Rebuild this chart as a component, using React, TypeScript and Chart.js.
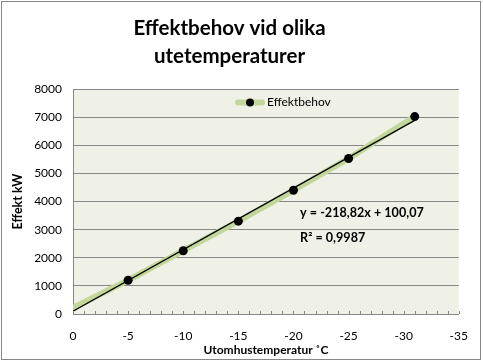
import React, { useEffect, useRef } from 'react';
import { Chart, registerables } from 'chart.js';

Chart.register(...registerables);

// ---- data ----
const titleLines = ['Effektbehov vid olika', 'utetemperaturer'];
const seriesName = 'Effektbehov';
const tempC = [0, -5, -10, -15, -20, -25, -31];
const powerKW = [220, 1200, 2250, 3300, 4400, 5530, 7020];
const markerShown = [false, true, true, true, true, true, true];
const trendTempC = [0, -31];
const trendPowerKW = [100, 6883];
const equationText = 'y = -218,82x + 100,07';
const r2Text = 'R² = 0,9987';
const equationAt = [-20.6, 3610];
const r2At = [-20.6, 2690];
const xTitle = 'Utomhustemperatur ˚C';
const yTitle = 'Effekt kW';
const xRange = [-35, 0];
const yRange = [0, 8000];
const xStep = 5;
const xMinorStep = 1;
const yStep = 1000;

// ---- styles ----
const FONT = 'Lato, "Open Sans", "DejaVu Sans", sans-serif';
const GREEN = '#C4D79B';
const GRID = '#878787';
const PLOT_BG = '#EFF1E7';

export default function App() {
  const ref = useRef<HTMLCanvasElement | null>(null);

  useEffect(() => {
    const canvas = ref.current;
    if (!canvas) return;

    const plotBg = {
      id: 'plotBg',
      beforeDraw(chart: any) {
        const { ctx, chartArea: a } = chart;
        ctx.save();
        ctx.fillStyle = PLOT_BG;
        ctx.fillRect(a.left, a.top, a.right - a.left, a.bottom - a.top);
        ctx.restore();
      },
    };

    const extras = {
      id: 'extras',
      afterDraw(chart: any) {
        const { ctx, chartArea: a, scales } = chart;
        const xs = scales.x;
        const ys = scales.y;
        ctx.save();
        // minor tick marks along the x axis (inside)
        ctx.strokeStyle = GRID;
        ctx.lineWidth = 1;
        for (let v = xRange[1]; v >= xRange[0]; v -= xMinorStep) {
          const px = Math.round(xs.getPixelForValue(v)) + 0.5;
          ctx.beginPath();
          ctx.moveTo(px, a.bottom);
          ctx.lineTo(px, a.bottom - 3);
          ctx.stroke();
        }
        // legend inside the plot
        const lx = a.left + 162;
        const ly = a.top + 13.5;
        ctx.strokeStyle = GREEN;
        ctx.lineWidth = 6;
        ctx.lineCap = 'round';
        ctx.beginPath();
        ctx.moveTo(lx + 3, ly);
        ctx.lineTo(lx + 27, ly);
        ctx.stroke();
        ctx.fillStyle = '#000';
        ctx.beginPath();
        ctx.arc(lx + 15, ly, 4, 0, Math.PI * 2);
        ctx.fill();
        ctx.font = `12px ${FONT}`;
        ctx.textBaseline = 'middle';
        ctx.textAlign = 'left';
        ctx.fillText(seriesName, lx + 32, ly);
        // trendline labels
        ctx.font = `bold 12.6px ${FONT}`;
        ctx.fillText(equationText, xs.getPixelForValue(equationAt[0]), ys.getPixelForValue(equationAt[1]));
        ctx.fillText(r2Text, xs.getPixelForValue(r2At[0]), ys.getPixelForValue(r2At[1]));
        // outer chart border
        ctx.strokeStyle = GRID;
        ctx.lineWidth = 1;
        ctx.strokeRect(1.5, 1.5, chart.width - 4, chart.height - 3);
        ctx.restore();
      },
    };

    const chart = new Chart(canvas, {
      type: 'scatter',
      data: {
        datasets: [
          {
            label: 'Trend',
            data: trendTempC.map((x, i) => ({ x, y: trendPowerKW[i] })),
            showLine: true,
            borderColor: '#000',
            borderWidth: 1.4,
            pointRadius: 0,
            clip: 0,
          },
          {
            label: seriesName,
            data: tempC.map((x, i) => ({ x, y: powerKW[i] })),
            showLine: true,
            borderColor: GREEN,
            borderWidth: 6,
            borderCapStyle: 'round',
            borderJoinStyle: 'round',
            pointRadius: markerShown.map((m) => (m ? 4.5 : 0)),
            pointBackgroundColor: '#000',
            pointBorderColor: '#000',
            pointBorderWidth: 0,
            clip: 0,
          } as any,
        ],
      },
      options: {
        animation: false,
        responsive: false,
        events: [],
        layout: { padding: { left: 0, right: 24, top: 0, bottom: 0 } },
        plugins: {
          legend: { display: false },
          tooltip: { enabled: false },
          title: {
            display: true,
            text: titleLines,
            color: '#000',
            font: { family: FONT, size: 20.5, weight: 'bold', lineHeight: '28px' } as any,
            padding: { top: 14, bottom: 19 },
          },
        },
        scales: {
          x: {
            type: 'linear',
            min: xRange[0],
            max: xRange[1],
            reverse: true,
            afterFit: (s: any) => {
              s.height = 47;
            },
            grid: { display: false, drawTicks: false },
            border: { display: true, color: GRID, width: 1 },
            ticks: {
              stepSize: xStep,
              color: '#000',
              padding: 15,
              font: { family: FONT, size: 12 },
              callback: (v: any) => String(v),
            },
            title: {
              display: true,
              text: xTitle,
              color: '#000',
              font: { family: FONT, size: 12, weight: 'bold' },
              padding: { top: 0, bottom: 4 },
            },
          },
          y: {
            type: 'linear',
            min: yRange[0],
            max: yRange[1],
            afterFit: (s: any) => {
              s.width = 73;
            },
            grid: { color: GRID, lineWidth: 1, drawTicks: false },
            border: { display: true, color: GRID, width: 1 },
            ticks: {
              stepSize: yStep,
              color: '#000',
              padding: 11,
              font: { family: FONT, size: 12 },
              callback: (v: any) => String(v),
            },
            title: {
              display: true,
              text: yTitle,
              color: '#000',
              font: { family: FONT, size: 12.5, weight: 'bold' },
              padding: { top: 10, bottom: 0 },
            },
          },
        },
      },
      plugins: [plotBg, extras],
    });

    return () => chart.destroy();
  }, []);

  return (
    <div style={{ position: 'absolute', left: 0, top: 0, width: 483, height: 361, background: '#fff' }}>
      <canvas ref={ref} width={483} height={361} style={{ display: 'block' }} />
    </div>
  );
}
